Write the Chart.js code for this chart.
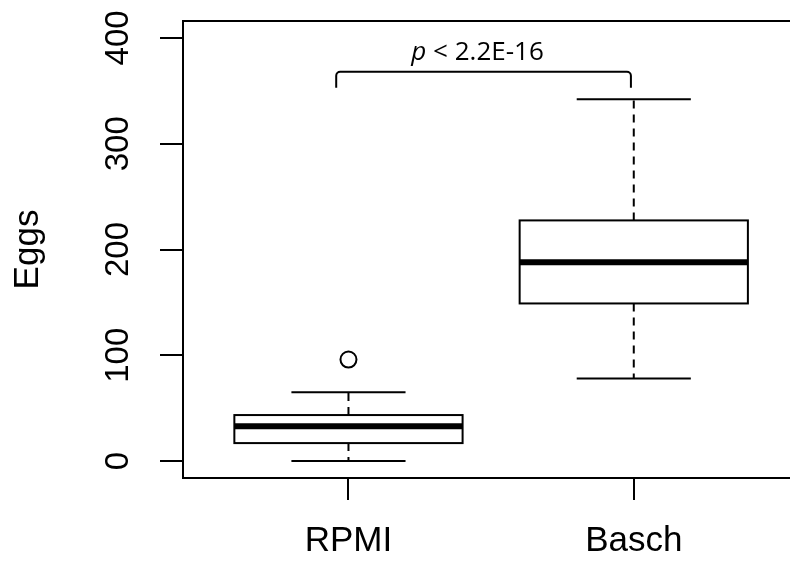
<!DOCTYPE html>
<html>
<head>
<meta charset="utf-8">
<script src="https://cdn.jsdelivr.net/npm/chart.js@4.4.1/dist/chart.umd.min.js"></script>
<style>
  html, body { margin: 0; padding: 0; background: #fff; overflow: hidden; }
  canvas { display: block; }
</style>
</head>
<body>
<canvas id="myChart" width="790" height="561"></canvas>
<script>
// box plot summary values
const groups = ['RPMI', 'Basch'];
const lowerWhisker = [0, 78];
const q1 = [17, 149];
const median = [33, 188];
const q3 = [43.5, 227.5];
const upperWhisker = [65, 342];
const outliers = [[96], []];
const yTicks = [0, 100, 200, 300, 400];

// significance bracket
const bracketX = [0.957, 1.99];
const bracketTop = 368;
const bracketEnd = 353;
const pLabel = 'p < 2.2E-16';

const outlierPoints = [];
outliers.forEach((list, i) => {
    list.forEach(v => outlierPoints.push({ x: i + 1, y: v }));
});

function noPad(s) {
    s.paddingTop = 0;
    s.paddingBottom = 0;
    s.paddingLeft = 0;
    s.paddingRight = 0;
}

const boxPlugin = {
    id: 'boxes',
    beforeDatasetsDraw(chart) {
        const ctx = chart.ctx;
        const xs = chart.scales.x;
        const ys = chart.scales.y;
        const area = chart.chartArea;
        ctx.save();
        ctx.strokeStyle = '#000';

        // top edge of the plot box (left/bottom come from the axes)
        ctx.lineWidth = 2;
        ctx.beginPath();
        ctx.moveTo(area.left, area.top);
        ctx.lineTo(area.right, area.top);
        ctx.stroke();

        groups.forEach((g, i) => {
            const cx = xs.getPixelForValue(i + 1);
            const bl = xs.getPixelForValue(i + 1 - 0.4);
            const br = xs.getPixelForValue(i + 1 + 0.4);
            const sl = xs.getPixelForValue(i + 1 - 0.2);
            const sr = xs.getPixelForValue(i + 1 + 0.2);
            const yLo = ys.getPixelForValue(lowerWhisker[i]);
            const yQ1 = ys.getPixelForValue(q1[i]);
            const yMed = ys.getPixelForValue(median[i]);
            const yQ3 = ys.getPixelForValue(q3[i]);
            const yHi = ys.getPixelForValue(upperWhisker[i]);

            // whiskers
            ctx.lineWidth = 2;
            ctx.setLineDash([8, 6]);
            ctx.beginPath();
            ctx.moveTo(cx, yQ1); ctx.lineTo(cx, yLo);
            ctx.moveTo(cx, yQ3); ctx.lineTo(cx, yHi);
            ctx.stroke();
            ctx.setLineDash([]);

            // staples
            ctx.beginPath();
            ctx.moveTo(sl, yLo); ctx.lineTo(sr, yLo);
            ctx.moveTo(sl, yHi); ctx.lineTo(sr, yHi);
            ctx.stroke();

            // box
            ctx.fillStyle = '#fff';
            ctx.fillRect(bl, yQ3, br - bl, yQ1 - yQ3);
            ctx.strokeRect(bl, yQ3, br - bl, yQ1 - yQ3);

            // median
            ctx.lineWidth = 6;
            ctx.beginPath();
            ctx.moveTo(bl, yMed); ctx.lineTo(br, yMed);
            ctx.stroke();
        });

        // bracket
        const x1 = xs.getPixelForValue(bracketX[0]);
        const x2 = xs.getPixelForValue(bracketX[1]);
        const yt = ys.getPixelForValue(bracketTop);
        const ye = ys.getPixelForValue(bracketEnd);
        ctx.lineWidth = 2;
        ctx.lineJoin = 'round';
        ctx.beginPath();
        ctx.moveTo(x1, ye);
        ctx.arcTo(x1, yt, x2, yt, 4);
        ctx.arcTo(x2, yt, x2, ye, 4);
        ctx.lineTo(x2, ye);
        ctx.stroke();

        // p value label, "p" in italics
        const mid = (x1 + x2) / 2 - 6;
        const base = yt - 12;
        ctx.fillStyle = '#000';
        ctx.textBaseline = 'alphabetic';
        ctx.font = 'italic 26px "Open Sans"';
        const pW = ctx.measureText('p').width;
        ctx.font = '26px "Open Sans"';
        const rest = pLabel.slice(1);
        const rW = ctx.measureText(rest).width;
        const start = mid - (pW + rW) / 2;
        ctx.textAlign = 'left';
        ctx.font = 'italic 26px "Open Sans"';
        ctx.fillText('p', start, base);
        ctx.font = '26px "Open Sans"';
        ctx.fillText(rest, start + pW, base);

        ctx.restore();
    }
};

const ctx = document.getElementById('myChart').getContext('2d');
const myChart = new Chart(ctx, {
    type: 'scatter',
    data: {
        datasets: [{
            label: 'outliers',
            data: outlierPoints,
            pointRadius: 8,
            pointHoverRadius: 8,
            pointBorderWidth: 2,
            pointBorderColor: '#000',
            pointBackgroundColor: '#fff'
        }]
    },
    options: {
        responsive: false,
        animation: false,
        events: [],
        layout: { autoPadding: false, padding: { top: 21, right: 0, left: 0, bottom: 0 } },
        plugins: {
            legend: { display: false },
            tooltip: { enabled: false }
        },
        scales: {
            x: {
                type: 'linear',
                min: 0.42,
                max: 2.5476,
                afterBuildTicks: s => { s.ticks = [{ value: 1 }, { value: 2 }]; },
                afterFit: s => { s.height = 83; noPad(s); },
                grid: {
                    drawOnChartArea: false,
                    drawTicks: true,
                    tickLength: 22,
                    color: '#000',
                    lineWidth: 2
                },
                border: { display: true, color: '#000', width: 2 },
                ticks: {
                    padding: 20,
                    color: '#000',
                    font: { family: '"Liberation Sans", Arial', size: 35 },
                    callback: v => groups[v - 1]
                }
            },
            y: {
                type: 'linear',
                min: -16,
                max: 416,
                afterBuildTicks: s => { s.ticks = yTicks.map(v => ({ value: v })); },
                afterFit: s => { s.width = 183; noPad(s); },
                grid: {
                    drawOnChartArea: false,
                    drawTicks: true,
                    tickLength: 23,
                    color: '#000',
                    lineWidth: 2
                },
                border: { display: true, color: '#000', width: 2 },
                ticks: {
                    minRotation: 90,
                    maxRotation: 90,
                    crossAlign: 'center',
                    padding: 14,
                    color: '#000',
                    font: { family: '"Liberation Sans", Arial', size: 33 }
                },
                title: {
                    display: true,
                    text: 'Eggs',
                    color: '#000',
                    padding: { top: 7, bottom: 0 },
                    font: { family: '"Liberation Sans", Arial', size: 35 }
                }
            }
        }
    },
    plugins: [boxPlugin]
});
</script>
</body>
</html>
